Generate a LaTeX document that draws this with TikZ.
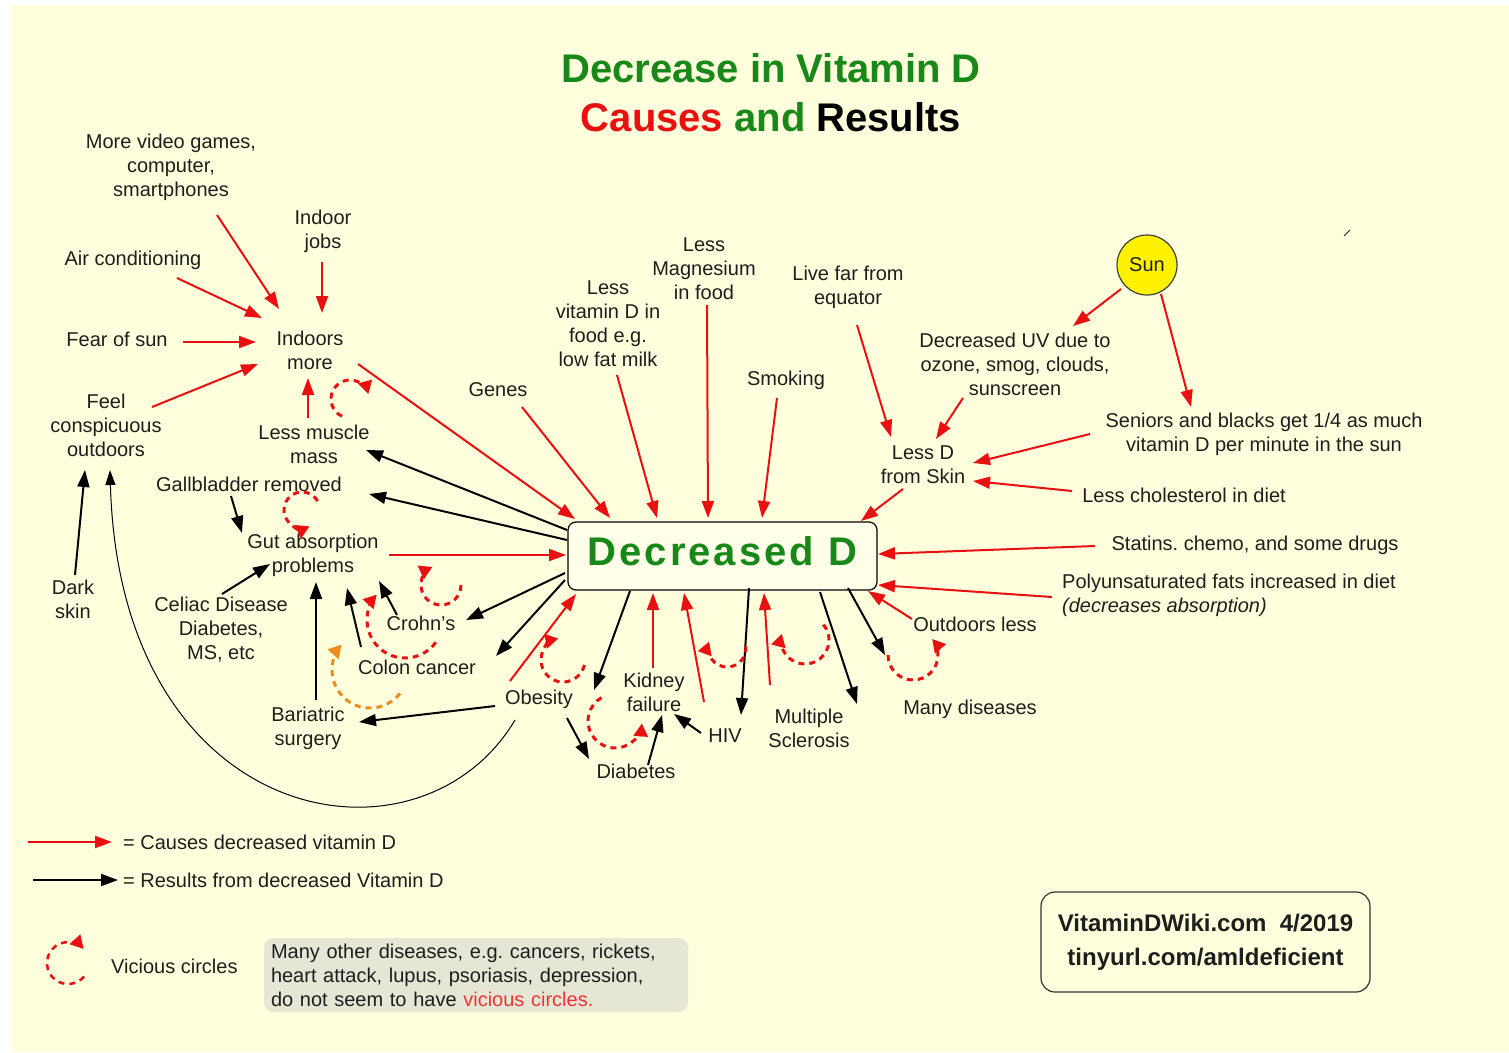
\documentclass[tikz,border=0pt]{standalone}
\usepackage{fontspec}
\setmainfont{Liberation Sans}
\usetikzlibrary{arrows.meta}
\definecolor{cream}{RGB}{255,255,221}
\definecolor{ddfill}{RGB}{255,255,234}
\definecolor{rd}{RGB}{232,16,16}
\definecolor{grn}{RGB}{24,136,24}
\definecolor{tx}{RGB}{30,30,30}
\definecolor{org}{RGB}{240,140,30}
\definecolor{gbox}{RGB}{230,230,214}
\frenchspacing
\begin{document}
\begin{tikzpicture}[x=1pt,y=-1pt,
  lbl/.style={font=\fontsize{20}{24}\selectfont, text=tx, align=center, inner sep=0pt},
  ra/.style={draw=rd, line width=2pt, -{Triangle[length=17pt,width=12pt]}},
  ba/.style={draw=black, line width=2pt, -{Triangle[length=17pt,width=12pt]}},
  thincurve/.style={draw=black, line width=1pt, -{Triangle[length=15pt,width=10pt]}},
  vc/.style={draw=rd, line width=3pt, dash pattern=on 6pt off 5pt, -{Triangle[length=13pt,width=14pt]}},
  vco/.style={vc, draw=org}
]
\useasboundingbox (0,0) rectangle (1509,1052);
\fill[white] (0,0) rectangle (1509,1052);
\fill[cream] (11,5) rectangle (1509,1052);

% title
\node[font=\bfseries\fontsize{40}{48}\selectfont, text=grn, inner sep=0pt] (t1) at (771,68) {Decrease in Vitamin D};
\node[font=\bfseries\fontsize{40}{48}\selectfont, inner sep=0pt] (t2) at (771,117) {\textcolor{rd}{Causes} \textcolor{grn}{and} \textcolor{black}{Results}};

% central node
\node[draw=black, line width=1.2pt, rounded corners=8pt, fill=ddfill, minimum width=309pt, minimum height=68pt, inner sep=0pt, text height=29pt, text depth=10pt, font=\bfseries\fontsize{40}{48}\selectfont\addfontfeatures{LetterSpace=7.5}, text=grn] (dd) at (722.5,556) {Decreased D};

% labels
\node[lbl] (vg) at (171,167) {More video games,\\computer,\\smartphones};
\node[lbl] (ij) at (323,231) {Indoor\\jobs};
\node[lbl] (ac) at (133,260) {Air conditioning};
\node[lbl] (fos) at (117,339) {Fear of sun};
\node[lbl] (im) at (310,350) {Indoors\\more};
\node[lbl] (fc) at (106,425) {Feel\\conspicuous\\outdoors};
\node[lbl] (lmm) at (314,444) {Less muscle\\mass};
\node[lbl] (gr) at (249,484) {Gallbladder removed};
\node[lbl] (gap) at (313,555) {Gut absorption\\problems};
\node[lbl] (cel) at (221,630) {Celiac Disease\\Diabetes,\\MS, etc};
\node[lbl] (ds) at (73,599) {Dark\\skin};
\node[lbl] (cr) at (421,623) {Crohn’s};
\node[lbl] (cc) at (417,667) {Colon cancer};
\node[lbl] (bs) at (308,728) {Bariatric\\surgery};
\node[lbl] (ob) at (539,699) {Obesity};
\node[lbl] (kf) at (654,692) {Kidney\\failure};
\node[lbl] (hiv) at (725,736) {HIV};
\node[lbl] (dia) at (636,771) {Diabetes};
\node[lbl] (ms) at (809,728) {Multiple\\Sclerosis};
\node[lbl] (md) at (970,709) {Many diseases};
\node[lbl] (ol) at (975,624) {Outdoors less};
\node[lbl, align=left, anchor=west] (pf) at (1062,595) {Polyunsaturated fats increased in diet\\\textit{(decreases absorption)}};
\node[lbl] (st) at (1255,545) {Statins. chemo, and some drugs};
\node[lbl] (lc) at (1184,495) {Less cholesterol in diet};
\node[lbl] (sb) at (1264,434) {Seniors and blacks get 1/4 as much\\vitamin D per minute in the sun};
\node[lbl] (lds) at (923,465) {Less D\\from Skin};
\node[lbl] (uv) at (1015,364) {Decreased UV due to\\ozone, smog, clouds,\\sunscreen};
\node[lbl, circle, draw=black!75, line width=1.2pt, fill=yellow, minimum size=60pt] (sun) at (1147,265) {Sun};
\node[lbl] (lfe) at (848,287) {Live far from\\equator};
\node[lbl] (smk) at (786,380) {Smoking};
\node[lbl] (mg) at (704,269) {Less\\Magnesium\\in food};
\node[lbl] (lvd) at (608,324) {Less\\vitamin D in\\food e.g.\\low fat milk};
\node[lbl] (gen) at (498,390) {Genes};

% stray mark
\draw[tx, line width=1pt] (1344,236) -- (1350,230);

% red arrows (causes)
\draw[ra] ([shift={(46,48)}]vg.center) -- ([shift={(-31,-41)}]im.center);
\draw[ra] ([shift={(44,18)}]ac.center) -- ([shift={(-48,-32)}]im.center);
\draw[ra] ([shift={(-1,31)}]ij.center) -- ([shift={(12,-37)}]im.center);
\draw[ra] ([shift={(66,3)}]fos.center) -- ([shift={(-54,-8)}]im.center);
\draw[ra] ([shift={(46,-18)}]fc.center) -- ([shift={(-52,14)}]im.center);
\draw[ra] ([shift={(-6,-26)}]lmm.center) -- ([shift={(-2,28)}]im.center);
\draw[ra] ([shift={(48,14)}]im.center) -- ([shift={(-147.5,-37)}]dd.center);
\draw[ra] ([shift={(24,17)}]gen.center) -- ([shift={(-112.5,-38)}]dd.center);
\draw[ra] ([shift={(9,51)}]lvd.center) -- ([shift={(-65.5,-38)}]dd.center);
\draw[ra] ([shift={(3,36)}]mg.center) -- ([shift={(-14.5,-38)}]dd.center);
\draw[ra] ([shift={(-9,18)}]smk.center) -- ([shift={(39.5,-38)}]dd.center);
\draw[ra] ([shift={(9,38)}]lfe.center) -- ([shift={(-32,-28)}]lds.center);
\draw[ra] ([shift={(-52,34)}]uv.center) -- ([shift={(13,-26)}]lds.center);
\draw[ra] ([shift={(-26,24)}]sun.center) -- ([shift={(58,-38)}]uv.center);
\draw[ra] ([shift={(14,29)}]sun.center) -- ([shift={(-73,-27)}]sb.center);
\draw[ra] ([shift={(-174,0)}]sb.center) -- ([shift={(50,-2)}]lds.center);
\draw[ra] ([shift={(-112,-4)}]lc.center) -- ([shift={(50,16)}]lds.center);
\draw[ra] ([shift={(-20,24)}]lds.center) -- ([shift={(138.5,-35)}]dd.center);
\draw[ra] ([shift={(-160,1)}]st.center) -- ([shift={(155.5,-2)}]dd.center);
\draw[ra] ([shift={(-10,2)}]pf.west) -- ([shift={(155.5,29)}]dd.center);
\draw[ra] ([shift={(-63,-5)}]ol.center) -- ([shift={(145.5,35)}]dd.center);
\draw[ra] ([shift={(76,0)}]gap.center) -- ([shift={(-156.5,-1)}]dd.center);
\draw[ra] ([shift={(-29,-18)}]ob.center) -- ([shift={(-146.5,38)}]dd.center);
\draw[ra] ([shift={(-1,-24)}]kf.center) -- ([shift={(-69.5,37)}]dd.center);
\draw[ra] ([shift={(-21,-34)}]hiv.center) -- ([shift={(-38.5,37)}]dd.center);
\draw[ra] ([shift={(-39,-43)}]ms.center) -- ([shift={(41.5,37)}]dd.center);

% black arrows (results)
\draw[ba] ([shift={(-155.5,-26)}]dd.center) -- ([shift={(52,6)}]lmm.center);
\draw[ba] ([shift={(-155.5,-16)}]dd.center) -- ([shift={(120,10)}]gr.center);
\draw[ba] ([shift={(-157.5,17)}]dd.center) -- ([shift={(45,-3)}]cr.center);
\draw[ba] ([shift={(-157.5,24)}]dd.center) -- ([shift={(79,-11)}]cc.center);
\draw[ba] ([shift={(-92.5,35)}]dd.center) -- ([shift={(55,-9)}]ob.center);
\draw[ba] ([shift={(26.5,32)}]dd.center) -- ([shift={(16,-21)}]hiv.center);
\draw[ba] ([shift={(97.5,36)}]dd.center) -- ([shift={(48,-24)}]ms.center);
\draw[ba] ([shift={(125.5,32)}]dd.center) -- ([shift={(-85,-54)}]md.center);
\draw[ba] ([shift={(-18,12)}]gr.center) -- ([shift={(-71,-22)}]gap.center);
\draw[ba] ([shift={(1,-36)}]cel.center) -- ([shift={(-43,9)}]gap.center);
\draw[ba] ([shift={(8,-28)}]bs.center) -- ([shift={(3,27)}]gap.center);
\draw[ba] ([shift={(-56,-20)}]cc.center) -- ([shift={(34,33)}]gap.center);
\draw[ba] ([shift={(-24,-8)}]cr.center) -- ([shift={(66,26)}]gap.center);
\draw[ba] ([shift={(-44,7)}]ob.center) -- ([shift={(51,-6)}]bs.center);
\draw[ba] ([shift={(28,19)}]ob.center) -- ([shift={(-47,-12)}]dia.center);
\draw[ba] ([shift={(12,-6)}]dia.center) -- ([shift={(8,23)}]kf.center);
\draw[ba] ([shift={(-24,-3)}]hiv.center) -- ([shift={(20,22)}]kf.center);
\draw[ba] ([shift={(2,-24)}]ds.center) -- ([shift={(-21,45)}]fc.center);
\draw[thincurve] ([shift={(-24,21)}]ob.center) .. controls (420,880) and (120,830) .. ([shift={(4,45)}]fc.center);

% vicious circles
\coordinate (c1) at (350,399);
\coordinate (c2) at (302,510);
\coordinate (c3) at (441,585);
\coordinate (c4) at (405,620);
\coordinate (c5) at (370,670);
\coordinate (c6) at (563,660);
\coordinate (c7) at (615,721);
\coordinate (c8) at (727,648);
\coordinate (c9) at (805,640);
\coordinate (c10) at (913,655);
\draw[vc] ([shift={(245:19pt)}]c1) arc[start angle=245, end angle=15, radius=19pt];
\draw[vc] ([shift={(30:18pt)}]c2) arc[start angle=30, end angle=295, radius=18pt];
\draw[vc] ([shift={(0:20pt)}]c3) arc[start angle=0, end angle=-245, radius=20pt];
\draw[vc] ([shift={(-36:38pt)}]c4) arc[start angle=-36, end angle=-222, radius=38pt];
\draw[vco] ([shift={(-38:38pt)}]c5) arc[start angle=-38, end angle=-222, radius=38pt];
\draw[vc] ([shift={(-13:22pt)}]c6) arc[start angle=-13, end angle=-258, radius=22pt];
\draw[vc] ([shift={(120:27pt)}]c7) arc[start angle=120, end angle=355, radius=27pt];
\draw[vc] ([shift={(5:19pt)}]c8) arc[start angle=5, end angle=-200, radius=19pt];
\draw[vc] ([shift={(40:24pt)}]c9) arc[start angle=40, end angle=-195, radius=24pt];
\draw[vc] ([shift={(180:25pt)}]c10) arc[start angle=180, end angle=400, radius=25pt];

% legend
\node[lbl, anchor=west] (lg1) at (123,842) {= Causes decreased vitamin D};
\node[lbl, anchor=west] (lg2) at (123,880) {= Results from decreased Vitamin D};
\coordinate (lg1s) at (28,842);
\coordinate (lg2s) at (33,880);
\draw[ra] (lg1s) -- ([xshift=-11pt]lg1.west);
\draw[ba] (lg2s) -- ([xshift=-5pt]lg2.west);
\coordinate (c11) at (68,963);
\draw[vc, line width=2.5pt] ([shift={(-40:21pt)}]c11) arc[start angle=-40, end angle=-318, radius=21pt];
\node[lbl, anchor=west] (vcl) at (111,966) {Vicious circles};
\node[lbl, align=left, fill=gbox, rounded corners=10pt, inner xsep=7pt, inner ysep=0pt, text width=410pt, minimum height=74pt] (other) at (476,975) {Many other diseases, e.g. cancers, rickets,\\heart attack, lupus, psoriasis, depression,\\do not seem to have \textcolor{rd!85}{vicious circles.}};

% credit box
\node[draw=black!80, line width=1.2pt, rounded corners=14pt, minimum width=329pt, minimum height=100pt, inner sep=0pt, align=center, text=tx, font=\bfseries\fontsize{24}{34}\selectfont] (web) at (1205.5,942) {VitaminDWiki.com\ \ 4/2019\\tinyurl.com/amldeficient};
\end{tikzpicture}
\end{document}
